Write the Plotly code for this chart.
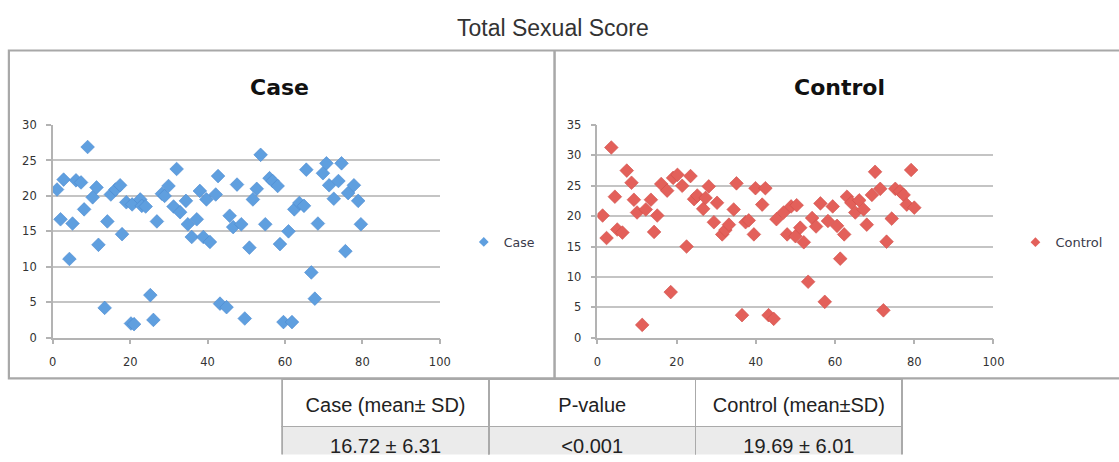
import plotly.graph_objects as go

W, H = 1119, 462

# ---------------- data ----------------
case_x = [1.1, 2, 2.8, 4.3, 5.1, 6, 7.3, 8.1, 9, 10.3, 11.3, 11.8, 13.4, 14.1, 15, 16.2,
          17.4, 17.9, 19, 20.2, 21, 20.5, 22.6, 23, 24, 25.2, 26, 26.9, 28.2, 28.9, 29.9,
          31.2, 32, 32.9, 34.4, 34.9, 35.9, 37.2, 38, 38.9, 39.7, 40.6, 42.1, 42.7, 43.2,
          44.9, 45.7, 46.6, 47.6, 48.7, 49.6, 50.8, 51.7, 52.7, 53.7, 54.9, 56, 56.8, 58.1,
          58.7, 59.6, 60.9, 61.8, 62.4, 63.7, 64.9, 65.5, 66.8, 67.7, 68.5, 69.8, 70.7,
          71.4, 72.6, 73.8, 74.6, 75.6, 76.3, 77.8, 78.9, 79.6]
case_y = [20.9, 16.7, 22.3, 11.1, 16.1, 22.2, 21.9, 18.1, 26.9, 19.8, 21.2, 13.1, 4.2, 16.4,
          20.2, 20.9, 21.5, 14.6, 19.1, 2.0, 1.9, 18.8, 19.5, 18.6, 18.5, 6.0, 2.5, 16.4, 20.3,
          20.0, 21.4, 18.5, 23.8, 17.7, 19.3, 16.0, 14.2, 16.7, 20.7, 14.2, 19.5, 13.5, 20.2,
          22.8, 4.8, 4.3, 17.2, 15.6, 21.6, 16.0, 2.7, 12.7, 19.5, 21.0, 25.8, 16.0, 22.5,
          22.1, 21.4, 13.2, 2.2, 15.0, 2.2, 18.1, 19.0, 18.6, 23.7, 9.2, 5.5, 16.1, 23.2,
          24.6, 21.5, 19.6, 22.1, 24.6, 12.2, 20.4, 21.5, 19.3, 16.0]

control_x = [1.3, 2.3, 3.5, 4.4, 5, 6.3, 7.4, 8.6, 9.2, 10, 11.3, 12.2, 13.5, 14.3, 15.1,
             16.1, 17.6, 18.5, 19.1, 20.2, 21.4, 22.5, 23.5, 24.4, 25.2, 26.7, 27.3, 28.1,
             29.4, 30.2, 31.5, 32.3, 33.2, 34.4, 35.1, 36.5, 37.4, 38.2, 39.5, 39.9, 41.6,
             42.4, 43.2, 44.5, 45.2, 47, 47.9, 48.9, 50.3, 50, 51.2, 52.1, 53.2, 54.2, 55.2,
             56.3, 57.4, 58.2, 59.4, 60.5, 61.3, 62.3, 63, 64.1, 65.1, 66.1, 67.2, 68, 69.3,
             70.1, 71.4, 72.2, 73, 74.3, 75.2, 76.4, 77.3, 78.1, 79.2, 80]
control_y = [20.1, 16.4, 31.3, 23.2, 17.8, 17.3, 27.5, 25.5, 22.7, 20.6, 2.1, 21.1, 22.7,
             17.4, 20.1, 25.3, 24.2, 7.5, 26.3, 26.8, 25.0, 15.0, 26.6, 22.8, 23.4, 21.2,
             23.0, 24.9, 19.0, 22.2, 17.0, 17.7, 18.6, 21.1, 25.4, 3.7, 19.0, 19.3, 17.0,
             24.6, 21.9, 24.6, 3.7, 3.1, 19.5, 20.6, 17.0, 21.6, 21.8, 16.7, 18.1, 15.7, 9.2,
             19.7, 18.3, 22.1, 5.9, 19.2, 21.6, 18.4, 13.0, 17.0, 23.2, 22.2, 20.6, 22.6,
             21.1, 18.6, 23.5, 27.3, 24.5, 4.5, 15.8, 19.6, 24.5, 24.1, 23.5, 21.9, 27.6, 21.4]

x_ticks = [0, 20, 40, 60, 80, 100]
table_header = ["Case (mean\u00b1 SD)", "P-value", "Control (mean\u00b1SD)"]
table_row = ["16.72 \u00b1 6.31", "<0.001", "19.69 \u00b1 6.01"]

CASE_COLOR = "#5f9fdf"
CONTROL_COLOR = "#e3605a"
GRID = "#c4c4c4"
AXIS = "#b3b3b3"
BORDER = "#a8a8a8"
FONT = "Liberation Sans, Arial, sans-serif"
XLFONT = "DejaVu Sans, Verdana, sans-serif"

# the captured picture maps page pixels slightly (scale + offset); compensate
AX, BX = 0.989, 3.1
AY, BY = 0.976, 6.2


def dx(xr):
    return (xr - BX) / AX


def dy(yr):
    return (yr - BY) / AY


def px(xr):
    return min(max(dx(xr) / W, 0), 1)


def py(yr):
    return min(max(1 - dy(yr) / H, 0), 1)


fig = go.Figure()

fig.add_trace(go.Scatter(
    x=case_x, y=case_y, mode="markers", xaxis="x", yaxis="y", showlegend=False,
    marker=dict(symbol="diamond", size=10.5, color=CASE_COLOR,
                line=dict(color="#4b8ad0", width=0.6))))
fig.add_trace(go.Scatter(
    x=control_x, y=control_y, mode="markers", xaxis="x2", yaxis="y2", showlegend=False,
    marker=dict(symbol="diamond", size=10.5, color=CONTROL_COLOR,
                line=dict(color="#d04f49", width=0.6))))

# legend entries (small symbols like the reference)
fig.add_trace(go.Scatter(x=[None], y=[None], mode="markers", name="Case", legend="legend",
                         xaxis="x", yaxis="y",
                         marker=dict(symbol="diamond", size=7.5, color=CASE_COLOR)))
fig.add_trace(go.Scatter(x=[None], y=[None], mode="markers", name="Control", legend="legend2",
                         xaxis="x2", yaxis="y2",
                         marker=dict(symbol="diamond", size=7.5, color=CONTROL_COLOR)))

# table: grid/fills
bg_top = dy(381)
bg_header_h = 46 / AY
fig.add_trace(go.Table(
    domain=dict(x=[px(282), px(904)], y=[0, py(381)]),
    columnwidth=[1, 1, 1],
    header=dict(values=["", "", ""], fill_color="white", line=dict(color="#aaaaaa", width=1.5),
                height=bg_header_h),
    cells=dict(values=[[""], [""], [""]], fill_color="#ebebeb",
               line=dict(color="#aaaaaa", width=1.5),
               height=int(H - bg_top - bg_header_h) - 1),
))
# table: text (all second-row values go through the same rich-text path)
tx_top = dy(391)
tx_header_h = 38
fig.add_trace(go.Table(
    domain=dict(x=[px(282), px(904)], y=[0, py(391)]),
    columnwidth=[1, 1, 1],
    header=dict(values=table_header, fill_color="rgba(0,0,0,0)", line_color="rgba(0,0,0,0)",
                align="center", height=tx_header_h,
                font=dict(family=FONT, size=20, color="#222222")),
    cells=dict(values=[["<span>" + v + "</span>"] for v in table_row],
               fill_color="rgba(0,0,0,0)",
               line_color="rgba(0,0,0,0)", align="center",
               height=int(H - tx_top - tx_header_h) - 1,
               font=dict(family=FONT, size=20, color="#222222")),
))

tickfont = dict(family=XLFONT, size=11.5, color="#333333")
xaxis_common = dict(range=[0, 100], tickvals=x_ticks, showgrid=False, zeroline=False,
                    showline=True, linecolor=AXIS, linewidth=1.5, ticks="outside",
                    ticklen=5, tickcolor=AXIS, tickwidth=1.5, ticklabelstandoff=8,
                    tickfont=tickfont, fixedrange=True)
yaxis_common = dict(showgrid=True, gridcolor=GRID, gridwidth=1.8, zeroline=False,
                    showline=True, linecolor=AXIS, linewidth=1.5, ticks="outside",
                    ticklen=5, tickcolor=AXIS, tickwidth=1.5, dtick=5, ticklabelstandoff=7,
                    tickfont=tickfont, fixedrange=True)

y_dom = [py(339), py(125)]

legend_common = dict(xanchor="left", yanchor="middle", bgcolor="rgba(0,0,0,0)",
                     itemwidth=30, tracegroupgap=0)

fig.update_layout(
    width=W, height=H, margin=dict(l=0, r=0, t=0, b=0),
    paper_bgcolor="white", plot_bgcolor="white",
    font=dict(family=FONT, color="#333333"),
    xaxis=dict(domain=[px(52), px(440)], anchor="y", **xaxis_common),
    yaxis=dict(domain=y_dom, anchor="x", range=[0, 30], **yaxis_common),
    xaxis2=dict(domain=[px(598), px(995)], anchor="y2", **xaxis_common),
    yaxis2=dict(domain=y_dom, anchor="x2", range=[0, 35], **yaxis_common),
    legend=dict(x=px(464), y=py(243), font=dict(family=XLFONT, size=12.5, color="#3a3a4a"),
                **legend_common),
    legend2=dict(x=px(1017), y=py(243), font=dict(family=XLFONT, size=13, color="#3a3a4a"),
                 **legend_common),
    shapes=[
        dict(type="rect", xref="paper", yref="paper", x0=px(8), x1=1.02, y0=py(380),
             y1=py(50), line=dict(color=BORDER, width=2.2), layer="below"),
        dict(type="line", xref="paper", yref="paper", x0=px(555), x1=px(555), y0=py(380),
             y1=py(50), line=dict(color=BORDER, width=2.5), layer="below"),
    ],
    annotations=[
        dict(text="Total Sexual Score", xref="paper", yref="paper", x=px(553), y=py(27),
             xanchor="center", yanchor="middle", showarrow=False,
             font=dict(family=FONT, size=23, color="#333333")),
        dict(text="<b>Case</b>", xref="paper", yref="paper", x=px(279), y=py(87),
             xanchor="center", yanchor="middle", showarrow=False,
             font=dict(family=XLFONT, size=22, color="#111111")),
        dict(text="<b>Control</b>", xref="paper", yref="paper", x=px(841), y=py(87),
             xanchor="center", yanchor="middle", showarrow=False,
             font=dict(family=XLFONT, size=22, color="#111111")),
    ],
)

fig.write_html(
    "out.html",
    config={"displayModeBar": False},
    post_script=("document.documentElement.style.margin='0';"
                 "document.documentElement.style.padding='0';"
                 "document.documentElement.style.overflow='hidden';"
                 "document.body.style.margin='0';"
                 "document.body.style.padding='0';"
                 "document.body.style.overflow='hidden';"),
)
